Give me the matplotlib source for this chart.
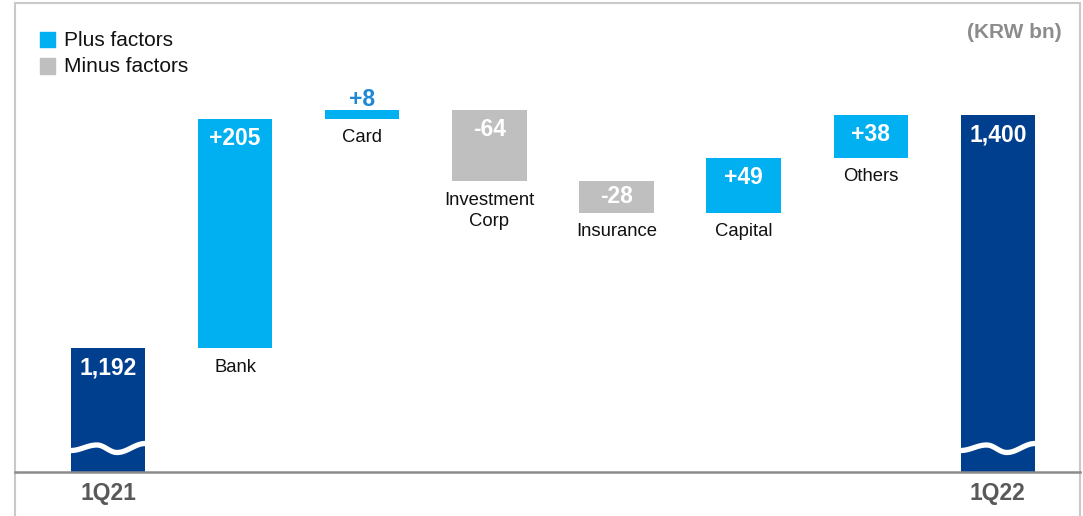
import numpy as np
import matplotlib.pyplot as plt
from matplotlib.patches import Rectangle
from matplotlib.lines import Line2D

plt.rcParams['font.family'] = ['Liberation Sans', 'DejaVu Sans']

# data (KRW bn)
categories = ['1Q21', 'Bank', 'Card', 'Investment\nCorp', 'Insurance', 'Capital', 'Others', '1Q22']
start_value = 1192
end_value = 1400
changes = [205, 8, -64, -28, 49, 38]
value_labels = ['1,192', '+205', '+8', '-64', '-28', '+49', '+38', '1,400']

navy = '#003F8E'
plus_blue = '#00B0F0'
minus_gray = '#BFBFBF'

W, H = 1083, 516
fig = plt.figure(figsize=(W / 100, H / 100), dpi=100)
base_px = 472
ax = fig.add_axes([0, (H - base_px) / H, 1, base_px / H])
ax.set_xlim(-0.85, 7.67)
y_lo, y_hi = 1081.6, 1503.0
ax.set_ylim(y_lo, y_hi)
ax.axis('off')
px = (y_hi - y_lo) / base_px  # data units per pixel

width = 0.585
x = np.arange(len(categories))

# totals
ax.bar(x[0], start_value, width, color=navy)
ax.bar(x[-1], end_value, width, color=navy)

tops = [start_value]
bottoms = [y_lo]
running = start_value
for i, ch in enumerate(changes, start=1):
    bottom = running if ch > 0 else running + ch
    ax.bar(x[i], abs(ch), width, bottom=bottom,
           color=plus_blue if ch > 0 else minus_gray)
    tops.append(bottom + abs(ch))
    bottoms.append(bottom)
    running += ch
tops.append(end_value)
bottoms.append(y_lo)

# value labels
for i, lab in enumerate(value_labels):
    if i == 2:
        ax.annotate(lab, (x[i], tops[i]), xytext=(0, 7.5), textcoords='offset points',
                    ha='center', va='center', fontsize=16.5, fontweight='bold', color='#1F88D4')
    else:
        off = -11 if abs(tops[i] - bottoms[i]) < 35 else -14
        ax.annotate(lab, (x[i], tops[i]), xytext=(0, off), textcoords='offset points',
                    ha='center', va='center', fontsize=16.5, fontweight='bold', color='white')

# category labels under the change bars
for i in range(1, len(categories) - 1):
    ax.annotate(categories[i], (x[i], bottoms[i]), xytext=(0, -7.5), textcoords='offset points',
                ha='center', va='top', fontsize=13.3, color='#111111', linespacing=1.3)

# period labels below the baseline
for i in (0, len(categories) - 1):
    ax.annotate(categories[i], (x[i], y_lo), xytext=(0, -15.5), textcoords='offset points',
                ha='center', va='center', fontsize=16.5, fontweight='bold', color='#595959',
                annotation_clip=False)

# axis-break waves on the total bars
def cos_interp(t, tk, yk):
    out = np.empty_like(t)
    for j in range(len(tk) - 1):
        m = (t >= tk[j]) & (t <= tk[j + 1])
        s = (t[m] - tk[j]) / (tk[j + 1] - tk[j])
        w = (1 - np.cos(np.pi * s)) / 2
        out[m] = yk[j] * (1 - w) + yk[j + 1] * w
    return out

t = np.linspace(0, 1, 80)
shape_px = cos_interp(t, [0, 0.35, 0.62, 1.0], [2.5, -3, 4.5, -4.5])
wave_y = y_lo + 24 * px
for i in (0, len(categories) - 1):
    xs = x[i] - width / 2 + t * width
    ax.plot(xs, wave_y - shape_px * px, color='white', lw=3.8, solid_capstyle='butt')

# frame and baseline
fig.add_artist(Rectangle((15 / W, -0.05), (1080 - 15) / W, 1.05 - 3 / H,
                         transform=fig.transFigure, fill=False, edgecolor='#C9C9C9', lw=1.5))
fig.add_artist(Line2D([15 / W, 1080 / W], [1 - base_px / H] * 2,
                      transform=fig.transFigure, color='#8C8C8C', lw=1.8))

# legend
for k, (lab, col) in enumerate([('Plus factors', plus_blue), ('Minus factors', minus_gray)]):
    yc = 40 + k * 26
    fig.add_artist(Rectangle((40 / W, 1 - (yc + 7.5) / H), 15 / W, 15 / H,
                             transform=fig.transFigure, color=col))
    fig.text(64 / W, 1 - yc / H, lab, ha='left', va='center', fontsize=15, color='#111111')

fig.text(1062 / W, 1 - 32 / H, '(KRW bn)', ha='right', va='center', fontsize=15,
         fontweight='bold', color='#8C8C8C')

fig.savefig('out.png', dpi=100)
